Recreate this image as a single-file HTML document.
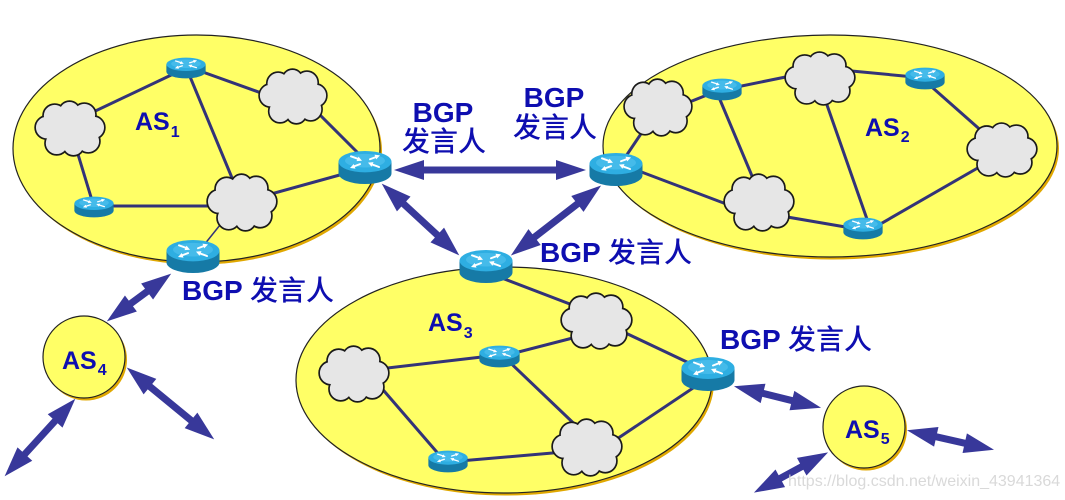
<!DOCTYPE html>
<html>
<head>
<meta charset="utf-8">
<style>
  html,body{margin:0;padding:0;background:#fff;}
  svg{display:block;}
  .t{font-family:"Liberation Sans","Noto Sans CJK SC",sans-serif;fill:#0e0eb0;}
  .b{font-weight:bold;}
  .cj{font-family:"Liberation Sans","Noto Sans CJK SC",sans-serif;font-weight:500;}
</style>
</head>
<body>
<svg width="1065" height="500" viewBox="0 0 1065 500" xmlns="http://www.w3.org/2000/svg">
<defs>
  <symbol id="rt" viewBox="0 0 54 36" preserveAspectRatio="none">
    <path d="M0.5,12 V24 A26.5,11 0 0 0 53.5,24 V12 Z" fill="#167aa6"/>
    <ellipse cx="27" cy="12" rx="26.5" ry="11" fill="#2eaee2"/>
    <ellipse cx="27" cy="11" rx="20" ry="7" fill="#45bbea"/>
    <g stroke="#ffffff" stroke-width="2" fill="none" stroke-linecap="round">
      <line x1="13" y1="6.5" x2="21" y2="9.5"/>
      <line x1="41" y1="17.5" x2="33" y2="14.5"/>
      <line x1="32" y1="9.5" x2="39" y2="6.8"/>
      <line x1="22" y1="14.5" x2="15" y2="17.2"/>
    </g>
    <g fill="#ffffff">
      <polygon points="24,11 18.5,11.5 20.5,6.8"/>
      <polygon points="30,13 35.5,12.5 33.5,17.2"/>
      <polygon points="42,5.5 36.5,4.8 38.2,9.6"/>
      <polygon points="12,18.5 17.5,19.2 15.8,14.4"/>
    </g>
  </symbol>
  <symbol id="cl" viewBox="0 0 74 58" preserveAspectRatio="none">
    <g stroke="#1a1a1a" stroke-width="3.4" fill="#e6e6e6">
      <circle cx="14" cy="28" r="11"/>
      <circle cx="22" cy="16" r="11"/>
      <circle cx="37" cy="12" r="10"/>
      <circle cx="52" cy="15" r="11"/>
      <circle cx="61" cy="28" r="11"/>
      <circle cx="56" cy="42" r="11"/>
      <circle cx="41" cy="46" r="10"/>
      <circle cx="24" cy="44" r="11"/>
    </g>
    <g fill="#e6e6e6">
      <circle cx="14" cy="28" r="11"/>
      <circle cx="22" cy="16" r="11"/>
      <circle cx="37" cy="12" r="10"/>
      <circle cx="52" cy="15" r="11"/>
      <circle cx="61" cy="28" r="11"/>
      <circle cx="56" cy="42" r="11"/>
      <circle cx="41" cy="46" r="10"/>
      <circle cx="24" cy="44" r="11"/>
      <circle cx="37" cy="29" r="19"/>
    </g>
  </symbol>
  <marker id="ah" viewBox="0 0 30 20" refX="1" refY="10" markerWidth="30" markerHeight="20" markerUnits="userSpaceOnUse" orient="auto-start-reverse" overflow="visible">
    <path d="M0,0 L30,10 L0,20 Z" fill="#38389a"/>
  </marker>
</defs>

<!-- AS ellipses with shadow -->
<ellipse cx="198.5" cy="151" rx="183.5" ry="113.5" fill="#e0a800"/>
<ellipse cx="196.5" cy="148.5" rx="183.5" ry="113.5" fill="#ffff66" stroke="#222" stroke-width="1.2"/>

<ellipse cx="832" cy="148.5" rx="227" ry="111" fill="#e0a800"/>
<ellipse cx="830" cy="146" rx="227" ry="111" fill="#ffff66" stroke="#222" stroke-width="1.2"/>

<ellipse cx="506" cy="382.5" rx="208" ry="113" fill="#e0a800"/>
<ellipse cx="504" cy="380" rx="208" ry="113" fill="#ffff66" stroke="#222" stroke-width="1.2"/>

<circle cx="86" cy="359.5" r="41" fill="#e0a800"/>
<circle cx="84" cy="357" r="41" fill="#ffff66" stroke="#222" stroke-width="1.2"/>

<circle cx="866" cy="429.5" r="41" fill="#e0a800"/>
<circle cx="864" cy="427" r="41" fill="#ffff66" stroke="#222" stroke-width="1.2"/>

<!-- internal links -->
<g stroke="#333378" stroke-width="3" fill="none">
  <!-- AS1 -->
  <line x1="70" y1="123" x2="186" y2="68"/>
  <line x1="186" y1="66" x2="292" y2="104"/>
  <line x1="186" y1="67" x2="242" y2="202"/>
  <line x1="70" y1="128" x2="94" y2="207"/>
  <line x1="94" y1="206" x2="242" y2="206"/>
  <line x1="242" y1="202" x2="365" y2="168"/>
  <line x1="300" y1="95" x2="360" y2="155"/>
  <!-- AS2 -->
  <line x1="620" y1="165" x2="657" y2="110"/>
  <line x1="657" y1="115" x2="722" y2="89"/>
  <line x1="722" y1="90" x2="820" y2="70"/>
  <line x1="820" y1="68" x2="925" y2="78"/>
  <line x1="718" y1="95" x2="760" y2="195"/>
  <line x1="615" y1="162" x2="758" y2="216"/>
  <line x1="758" y1="212" x2="863" y2="230"/>
  <line x1="820" y1="85" x2="868" y2="222"/>
  <line x1="925" y1="81" x2="1002" y2="149"/>
  <line x1="1002" y1="154" x2="863" y2="234"/>
  <!-- AS3 -->
  <line x1="486" y1="272" x2="596" y2="314"/>
  <line x1="596" y1="332" x2="499" y2="357"/>
  <line x1="499" y1="355" x2="353" y2="372"/>
  <line x1="596" y1="319" x2="708" y2="372"/>
  <line x1="353" y1="355" x2="448" y2="465"/>
  <line x1="448" y1="462" x2="587" y2="450"/>
  <line x1="499" y1="352" x2="587" y2="436"/>
  <line x1="587" y1="459" x2="708" y2="378"/>
</g>
<line x1="228" y1="215" x2="200" y2="250" stroke="#333378" stroke-width="1.5"/>

<!-- clouds -->
<use href="#cl" x="33" y="100" width="73" height="57"/>
<use href="#cl" x="257" y="68" width="71" height="57"/>
<use href="#cl" x="205" y="173" width="73" height="59"/>

<use href="#cl" x="622" y="78" width="71" height="59"/>
<use href="#cl" x="783" y="51" width="73" height="55"/>
<use href="#cl" x="722" y="173" width="73" height="59"/>
<use href="#cl" x="965" y="122" width="73" height="56"/>

<use href="#cl" x="317" y="345" width="73" height="58"/>
<use href="#cl" x="559" y="292" width="74" height="58"/>
<use href="#cl" x="550" y="418" width="73" height="59"/>

<!-- routers -->
<use href="#rt" x="166" y="57" width="40" height="22"/>
<use href="#rt" x="74" y="196" width="40" height="22"/>
<use href="#rt" x="338" y="150" width="54" height="35"/>
<use href="#rt" x="166" y="239" width="54" height="35"/>

<use href="#rt" x="589" y="152" width="54" height="35"/>
<use href="#rt" x="702" y="78" width="40" height="23"/>
<use href="#rt" x="905" y="67" width="40" height="23"/>
<use href="#rt" x="843" y="217" width="40" height="23"/>

<use href="#rt" x="459" y="249" width="54" height="35"/>
<use href="#rt" x="479" y="345" width="41" height="23"/>
<use href="#rt" x="428" y="450" width="40" height="23"/>
<use href="#rt" x="681" y="356" width="54" height="36"/>

<!-- BGP arrows -->
<g stroke="#38389a" stroke-width="7" marker-start="url(#ah)" marker-end="url(#ah)">
  <line x1="423" y1="170" x2="557" y2="170"/>
  <line x1="403" y1="203.3" x2="438" y2="235.7"/>
  <line x1="578.2" y1="203.3" x2="533.8" y2="237.7"/>
  <line x1="147.9" y1="290.9" x2="130.1" y2="304.1"/>
  <line x1="55.8" y1="420.2" x2="24.2" y2="454.8"/>
  <line x1="149.2" y1="386" x2="191.8" y2="421"/>
  <line x1="762.1" y1="393.2" x2="792.9" y2="400.8"/>
  <line x1="935.3" y1="436.6" x2="965.7" y2="443.4"/>
  <line x1="802.6" y1="466.2" x2="779.4" y2="478.8"/>
</g>

<!-- labels -->
<text class="t b" x="443" y="122" font-size="28" text-anchor="middle">BGP</text>
<text class="t cj" x="444" y="151" font-size="28" text-anchor="middle">发言人</text>

<text class="t b" x="554" y="107" font-size="28" text-anchor="middle">BGP</text>
<text class="t cj" x="555" y="137" font-size="28" text-anchor="middle">发言人</text>

<text class="t b" x="540" y="262" font-size="28">BGP <tspan class="cj">发言人</tspan></text>
<text class="t b" x="182" y="300" font-size="28">BGP <tspan class="cj">发言人</tspan></text>
<text class="t b" x="720" y="349" font-size="28">BGP <tspan class="cj">发言人</tspan></text>

<text class="t b" x="135" y="130" font-size="25">AS<tspan font-size="16" dx="1" dy="7">1</tspan></text>
<text class="t b" x="865" y="136" font-size="25">AS<tspan font-size="16" dx="1" dy="6">2</tspan></text>
<text class="t b" x="428" y="331" font-size="25">AS<tspan font-size="16" dx="1" dy="7">3</tspan></text>
<text class="t b" x="62" y="369" font-size="25">AS<tspan font-size="16" dx="1" dy="6">4</tspan></text>
<text class="t b" x="845" y="438" font-size="25">AS<tspan font-size="16" dx="1" dy="6">5</tspan></text>

<!-- watermark -->
<text x="788" y="486" font-family="Liberation Sans, sans-serif" font-size="16" fill="#d2d2d2" fill-opacity="0.85">https://blog.csdn.net/weixin_43941364</text>
</svg>
</body>
</html>
